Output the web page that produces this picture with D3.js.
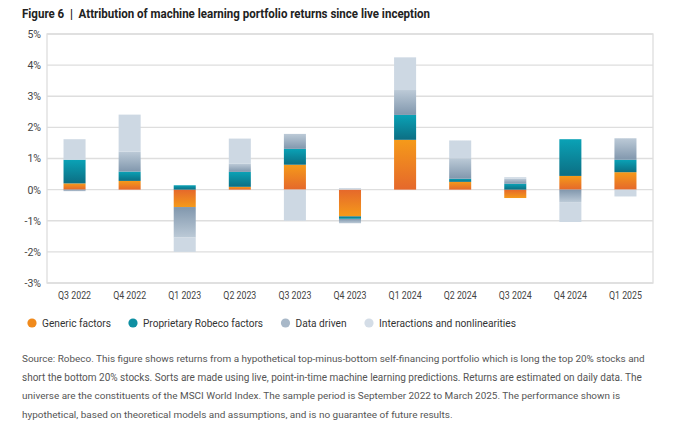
<!DOCTYPE html>
<html>
<head>
<meta charset="utf-8">
<script src="https://cdn.jsdelivr.net/npm/d3@7"></script>
<style>
  html, body { margin: 0; padding: 0; background: #fff; }
  svg { display: block; font-family: Roboto, "Liberation Sans", sans-serif; }
</style>
</head>
<body>
<svg id="chart" width="680" height="433"></svg>
<script>
// ---- data ----
const quarters = ["Q3 2022","Q4 2022","Q1 2023","Q2 2023","Q3 2023","Q4 2023","Q1 2024","Q2 2024","Q3 2024","Q4 2024","Q1 2025"];
const genericFactors      = [0.20, 0.28, -0.56, 0.09, 0.80, -0.86, 1.60, 0.25, -0.27, 0.44, 0.56];
const proprietaryFactors  = [0.76, 0.30,  0.14, 0.48, 0.51, -0.08, 0.80, 0.10,  0.19, 1.18, 0.40];
const dataDriven          = [-0.05, 0.64, -0.98, 0.26, 0.48, -0.14, 0.80, 0.66, 0.16, -0.40, 0.69];
const interactions        = [0.66, 1.19, -0.46, 0.81, -1.00, 0.05, 1.05, 0.57, 0.05, -0.64, -0.22];
const seriesNames = ["Generic factors","Proprietary Robeco factors","Data driven","Interactions and nonlinearities"];
const yTicks = [-3,-2,-1,0,1,2,3,4,5];
const titleText = "Figure 6  |  Attribution of machine learning portfolio returns since live inception";
const footnoteLines = [
  "Source: Robeco. This figure shows returns from a hypothetical top-minus-bottom self-financing portfolio which is long the top 20% stocks and",
  "short the bottom 20% stocks. Sorts are made using live, point-in-time machine learning predictions. Returns are estimated on daily data. The",
  "universe are the constituents of the MSCI World Index. The sample period is September 2022 to March 2025. The performance shown is",
  "hypothetical, based on theoretical models and assumptions, and is no guarantee of future results."
];

// ---- styles ----
const keys = ["generic","proprietary","data","inter"];
const gradStops = {
  generic:     ["#e5682b", "#f59a1a"],   // near zero -> far
  proprietary: ["#0c6e83", "#0aa2b6"],
  data:        ["#8197ad", "#bccad7"],
  inter:       ["#cdd8e3", "#cdd8e3"]
};
const legendColors = ["#f08a1c", "#0e8fa2", "#a8b8c8", "#d4dde7"];

const rows = quarters.map((q, i) => ({
  q,
  generic: genericFactors[i],
  proprietary: proprietaryFactors[i],
  data: dataDriven[i],
  inter: interactions[i]
}));

const svg = d3.select("#chart");

const x = d3.scaleBand().domain(quarters).range([47, 653]).paddingInner(0.6).paddingOuter(0.3);
const y = d3.scaleLinear().domain([-3, 5]).range([283, 34]);

// shrink the font so the natural text width fits the target width
function fitText(sel, target, size) {
  sel.attr("font-size", size);
  const w = sel.node().getComputedTextLength();
  if (w > target) sel.attr("font-size", size * target / w);
}

// defs: gradients
const defs = svg.append("defs");
keys.forEach(k => {
  ["pos","neg"].forEach(dir => {
    const g = defs.append("linearGradient")
      .attr("id", `g-${k}-${dir}`)
      .attr("x1", 0).attr("x2", 0)
      .attr("y1", dir === "pos" ? 1 : 0)
      .attr("y2", dir === "pos" ? 0 : 1);
    g.append("stop").attr("offset", "0%").attr("stop-color", gradStops[k][0]);
    g.append("stop").attr("offset", "100%").attr("stop-color", gradStops[k][1]);
  });
});

// title
svg.append("text")
  .attr("x", 22).attr("y", 18)
  .attr("font-size", 13).attr("font-weight", 700).attr("fill", "#222")
  .attr("textLength", 408).attr("lengthAdjust", "spacingAndGlyphs")
  .style("white-space", "pre")
  .text(titleText);

// grid
const gridColor = "#dedede";
svg.append("g").selectAll("line").data(yTicks).join("line")
  .attr("x1", 47).attr("x2", 653)
  .attr("y1", d => y(d)).attr("y2", d => y(d))
  .attr("stroke", gridColor).attr("stroke-width", 1.3);
// frame
svg.append("rect")
  .attr("x", 47).attr("y", y(5)).attr("width", 606).attr("height", y(-3) - y(5))
  .attr("fill", "none").attr("stroke", gridColor).attr("stroke-width", 1.3);

// y axis labels
const yAxis = d3.axisLeft(y).tickValues(yTicks).tickFormat(d => d + "%").tickSize(0).tickPadding(6);
const yg = svg.append("g").attr("transform", "translate(47,0)").call(yAxis);
yg.select(".domain").remove();
yg.selectAll("text").attr("font-size", 10.5).attr("fill", "#444").attr("font-family", "Roboto, sans-serif");

// x axis labels
const xAxis = d3.axisBottom(x).tickSize(0).tickPadding(9);
const xg = svg.append("g").attr("transform", `translate(0,${y(-3)})`).call(xAxis);
xg.select(".domain").remove();
xg.selectAll("text").attr("font-size", 10.5).attr("fill", "#444").attr("font-family", "Roboto, sans-serif")
  .attr("textLength", 33).attr("lengthAdjust", "spacingAndGlyphs");

// stacked bars
const stack = d3.stack().keys(keys).offset(d3.stackOffsetDiverging);
const series = stack(rows);
const bars = svg.append("g");
series.forEach(s => {
  bars.append("g").selectAll("rect").data(s).join("rect")
    .attr("x", d => x(d.data.q))
    .attr("width", x.bandwidth())
    .attr("y", d => y(Math.max(d[0], d[1])))
    .attr("height", d => Math.abs(y(d[0]) - y(d[1])))
    .attr("fill", d => `url(#g-${s.key}-${d.data[s.key] >= 0 ? "pos" : "neg"})`);
});

// legend
const legendX = [32, 133, 285.5, 369];
const legendW = [69, 120, 51, 137];
const lg = svg.append("g");
seriesNames.forEach((name, i) => {
  lg.append("circle").attr("cx", legendX[i]).attr("cy", 323).attr("r", 4.6).attr("fill", legendColors[i]);
  lg.append("text").attr("x", legendX[i] + 10).attr("y", 327)
    .attr("font-size", 11.5).attr("fill", "#333")
    .attr("textLength", legendW[i]).attr("lengthAdjust", "spacingAndGlyphs")
    .text(name);
});

// footnote
const fnW = [624, 620, 599, 431];
svg.append("g").selectAll("text").data(footnoteLines).join("text")
  .attr("x", 22).attr("y", (d, i) => 362 + i * 18.6)
  .attr("fill", "#555")
  .text(d => d)
  .each(function(d, i) { fitText(d3.select(this), fnW[i], 11); });
</script>
</body>
</html>
